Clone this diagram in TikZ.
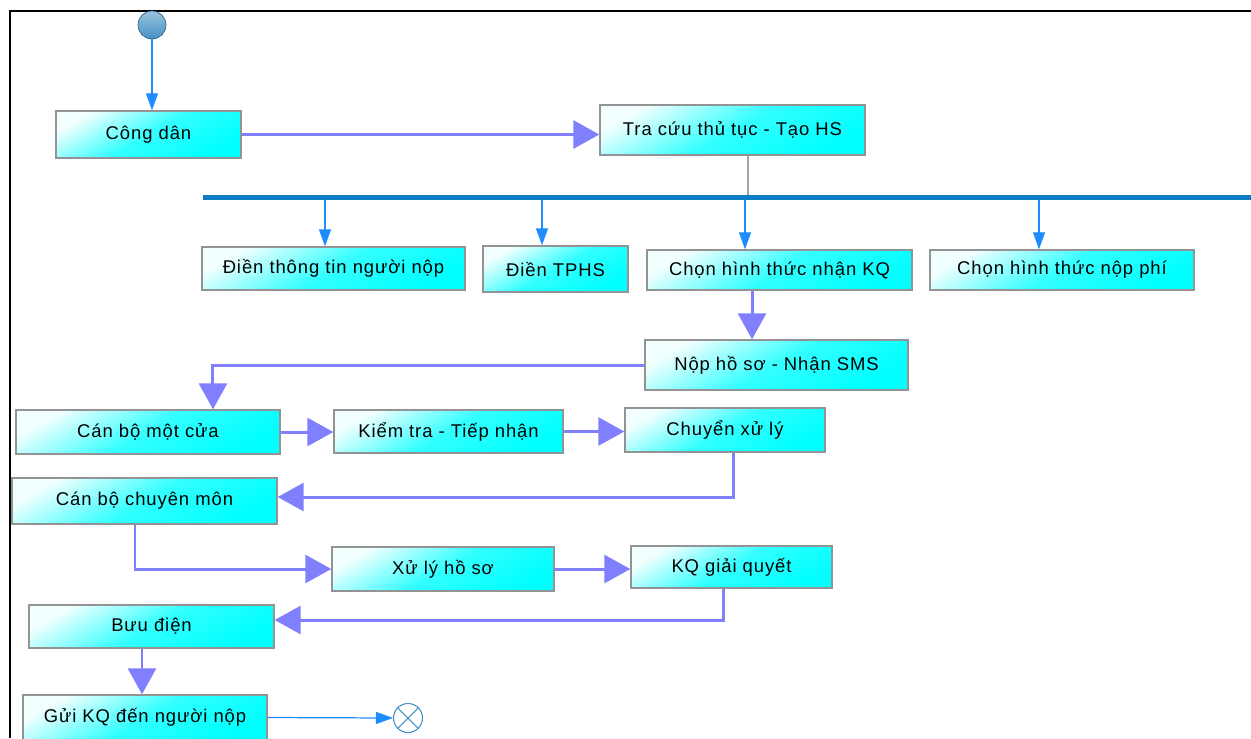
\documentclass[tikz,border=0pt]{standalone}
\usepackage{fontspec}
\setmainfont{Liberation Sans}[LetterSpace=5]
\usetikzlibrary{arrows.meta,positioning}
\definecolor{flowblue}{RGB}{30,140,255}
\definecolor{lav}{RGB}{128,128,255}
\definecolor{forkblue}{RGB}{10,125,195}
\definecolor{startblue}{RGB}{70,145,195}

\begin{document}
\begin{tikzpicture}[
    x=0.02cm, y=-0.02cm,
    act/.style={draw=gray!85, line width=0.8pt, top color=cyan!5, bottom color=cyan, middle color=cyan!80, shading angle=30, inner sep=0pt, font=\fontsize{10.5}{12}\selectfont},
    startnode/.style={circle, draw=startblue!70!black, top color=startblue!55!white, bottom color=startblue, minimum size=0.56cm, inner sep=0pt},
    endnode/.style={circle, draw=startblue, fill=white, line width=0.6pt, minimum size=0.58cm, inner sep=0pt},
    fork/.style={fill=forkblue, minimum width=20.96cm, minimum height=0.1cm, inner sep=0pt},
    flow/.style={-{Triangle[length=0.34cm, width=0.24cm]}, draw=flowblue, line width=0.7pt},
    line/.style={-{Triangle[length=0.52cm, width=0.56cm]}, draw=lav, line width=1.7pt}
  ]
    \useasboundingbox (0,0) rectangle (1251,738);
    \draw[line width=1.1pt] (10,738) -- (10,11) -- (1251,11);

    \node[startnode] (start) at (152,25) {};
    \node[act, minimum width=3.7cm, minimum height=0.94cm] (cong) at (148.5,134.5) {Công dân};
    \node[act, minimum width=5.3cm, minimum height=1cm] (tracuu) at (732.5,130) {Tra cứu thủ tục - Tạo HS};
    \node[fork] (bar) at (727,197.5) {};
    \node[act, minimum width=5.26cm, minimum height=0.86cm] (dien1) at (333.5,268.5) {Điền thông tin người nộp};
    \node[act, minimum width=2.9cm, minimum height=0.92cm] (dien2) at (555.5,269) {Điền TPHS};
    \node[act, minimum width=5.3cm, minimum height=0.8cm] (chonkq) at (779.5,270) {Chọn hình thức nhận KQ};
    \node[act, minimum width=5.28cm, minimum height=0.8cm] (chonphi) at (1062,270) {Chọn hình thức nộp phí};
    \node[act, minimum width=5.26cm, minimum height=1cm] (nophs) at (776.5,365) {Nộp hồ sơ - Nhận SMS};
    \node[act, minimum width=5.28cm, minimum height=0.88cm] (motcua) at (148,432) {Cán bộ một cửa};
    \node[act, minimum width=4.58cm, minimum height=0.86cm] (kiemtra) at (448.5,431.5) {Kiểm tra - Tiếp nhận};
    \node[act, minimum width=4cm, minimum height=0.88cm] (chuyen) at (725,430) {Chuyển xử lý};
    \node[act, minimum width=5.3cm, minimum height=0.92cm] (chuyenmon) at (144.5,501) {Cán bộ chuyên môn};
    \node[act, minimum width=4.44cm, minimum height=0.88cm] (xuly) at (443,569) {Xử lý hồ sơ};
    \node[act, minimum width=4.02cm, minimum height=0.84cm] (kq) at (731.5,567) {KQ giải quyết};
    \node[act, minimum width=4.9cm, minimum height=0.86cm] (buudien) at (151.5,626.5) {Bưu điện};
    \node[act, minimum width=4.88cm, minimum height=0.9cm] (gui) at (145,717.5) {Gửi KQ đến người nộp};
    \node[endnode] (end) at (408,718) {};
    \draw[startblue, line width=0.6pt] (end.45) -- (end.225) (end.135) -- (end.315);

    \draw[flow] (start) -- (start |- cong.north);
    \draw[line] (cong.east) -- (cong.east -| tracuu.west);
    \draw[gray!70, line width=1pt] ([xshift=0.31cm]tracuu.south) -- ([xshift=0.31cm]tracuu.south |- bar.north);
    \draw[flow] ([xshift=-0.17cm]dien1.north |- bar.south) -- ([xshift=-0.17cm]dien1.north);
    \draw[flow] ([xshift=-0.27cm]dien2.north |- bar.south) -- ([xshift=-0.27cm]dien2.north);
    \draw[flow] ([xshift=-0.69cm]chonkq.north |- bar.south) -- ([xshift=-0.69cm]chonkq.north);
    \draw[flow] ([xshift=-0.46cm]chonphi.north |- bar.south) -- ([xshift=-0.46cm]chonphi.north);
    \draw[line] ([xshift=-0.55cm]chonkq.south) -- ([xshift=-0.55cm]chonkq.south |- nophs.north);
    \draw[line] (nophs.west) -| ([xshift=1.3cm]motcua.north);
    \draw[line] (motcua.east) -- (motcua.east -| kiemtra.west);
    \draw[line] (kiemtra.east) -- (kiemtra.east -| chuyen.west);
    \draw[line] ([xshift=0.16cm]chuyen.south) |- ([yshift=0.08cm]chuyenmon.east);
    \draw[line] ([xshift=-0.19cm]chuyenmon.south) |- (xuly.west);
    \draw[line] (xuly.east) -- (xuly.east -| kq.west);
    \draw[line] ([xshift=-0.17cm]kq.south) |- ([yshift=0.13cm]buudien.east);
    \draw[line] ([xshift=-0.19cm]buudien.south) -- ([xshift=-0.19cm]buudien.south |- gui.north);
    \draw[flow] (gui.east) -- (end.west);
  \end{tikzpicture}
\end{document}
